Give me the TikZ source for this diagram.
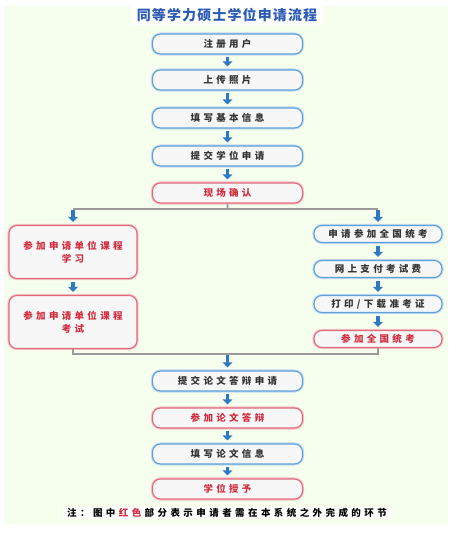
\documentclass[tikz,border=0pt]{standalone}
\usepackage{fontspec}
\newfontfamily\cjk[LetterSpace=35]{Noto Sans CJK SC}
\newfontfamily\cjktitle[LetterSpace=8]{Noto Sans CJK SC}
\newfontfamily\cjknote[LetterSpace=36]{Noto Sans CJK SC}
\usetikzlibrary{arrows.meta}
\definecolor{bgc}{HTML}{F6FEEE}
\definecolor{bluebd}{HTML}{5E9FD8}
\definecolor{bluehalo}{HTML}{C4DDF2}
\definecolor{redbd}{HTML}{E06A7A}
\definecolor{redhalo}{HTML}{F6C4CB}
\definecolor{redtxt}{HTML}{D22D3E}
\definecolor{darktxt}{HTML}{333333}
\definecolor{arrowc}{HTML}{2F78C4}
\definecolor{titlec}{HTML}{2B5BB5}
\definecolor{linec}{HTML}{9A9A9A}
\newcommand{\gapkern}{\kern0.36em}
\begin{document}
\begin{tikzpicture}[x=1pt,y=-1pt,
  basebox/.style={rounded corners=8pt, fill=white!94!gray, line width=1.1pt,
     align=center, inner sep=0pt, font=\cjk\bfseries\fontsize{9.5}{13}\selectfont},
  bluebox/.style={basebox, draw=bluebd, text=darktxt,
     preaction={draw=bluehalo, line width=3.2pt, rounded corners=8pt}},
  redbox/.style={basebox, draw=redbd, text=redtxt,
     preaction={draw=redhalo, line width=3.2pt, rounded corners=8pt}},
  midbox/.style={minimum width=150pt, minimum height=20pt},
  sidebox/.style={minimum width=128pt, minimum height=17pt},
  bigbox/.style={minimum width=128pt, minimum height=53pt},
  flowarr/.style={draw=arrowc, line width=3.6pt, shorten <=2.5pt, shorten >=3pt,
     -{Triangle[width=9.5pt,length=5pt]}},
  grayline/.style={draw=linec, line width=1.3pt,
     preaction={draw=linec!45, line width=2.6pt}}
]
\useasboundingbox (0,0) rectangle (468,541);
\fill[white] (0,0) rectangle (468,541);
\fill[bgc] (4,6) rectangle (448,524);

\node[fill=white, inner xsep=6pt, inner ysep=3pt, font=\cjktitle\bfseries\fontsize{14}{16}\selectfont, text=titlec] (title) at (227,15) {同等学力硕士学位申请流程};

\node[bluebox,midbox] (b1) at (227.5,44) {注册用户};
\node[bluebox,midbox] (b2) at (227.5,80) {上传照片};
\node[bluebox,midbox] (b3) at (227.5,118) {填写基本信息};
\node[bluebox,midbox] (b4) at (227.5,156) {提交学位申请};
\node[redbox,midbox] (b5) at (227.5,193) {现场确认};

\node[redbox,bigbox] (L1) at (73,252) {参加申请单位课程\\学习};
\node[redbox,bigbox] (L2) at (73,322) {参加申请单位课程\\考试};

\node[bluebox,sidebox] (R1) at (378,234) {申请参加全国统考};
\node[bluebox,sidebox] (R2) at (378,269) {网上支付考试费};
\node[bluebox,sidebox] (R3) at (378,304) {打印/下载准考证};
\node[redbox,sidebox] (R4) at (378,339) {参加全国统考};

\node[bluebox,midbox] (b6) at (227.5,381) {提交论文答辩申请};
\node[redbox,midbox] (b7) at (227.5,418) {参加论文答辩};
\node[bluebox,midbox] (b8) at (227.5,454) {填写论文信息};
\node[redbox,midbox] (b9) at (227.5,489) {学位授予};

\node[fill=white, inner xsep=4pt, inner ysep=1.5pt, font=\cjknote\bfseries\fontsize{9.5}{11}\selectfont, text=black] (note) at (227,513) {注：图中\gapkern\textcolor{redtxt}{红色}\gapkern 部分表示申请者需在本系统之外完成的环节};

% main flow arrows
\draw[flowarr] (b1) -- (b2);
\draw[flowarr] (b2) -- (b3);
\draw[flowarr] (b3) -- (b4);
\draw[flowarr] (b4) -- (b5);

% split
\coordinate (sc) at (227.5,209);
\coordinate (sl) at (73,209);
\coordinate (sr) at (378,209);
\draw[grayline] (b5.south) -- (sc);
\draw[grayline] (sl) -- (sr);
\draw[flowarr, shorten <=1pt] (sl) -- (L1);
\draw[flowarr, shorten <=1pt] (sr) -- (R1);

\draw[flowarr] (L1) -- (L2);
\draw[flowarr] (R1) -- (R2);
\draw[flowarr] (R2) -- (R3);
\draw[flowarr] (R3) -- (R4);

% merge
\coordinate (ml) at (73,354);
\coordinate (mr) at (378,354);
\coordinate (mc) at (227.5,354);
\draw[grayline] (L2.south) -- (ml) -- (mr) -- (R4.south);
\draw[flowarr, shorten <=1pt] (mc) -- (b6);

\draw[flowarr] (b6) -- (b7);
\draw[flowarr] (b7) -- (b8);
\draw[flowarr] (b8) -- (b9);
\end{tikzpicture}
\end{document}
